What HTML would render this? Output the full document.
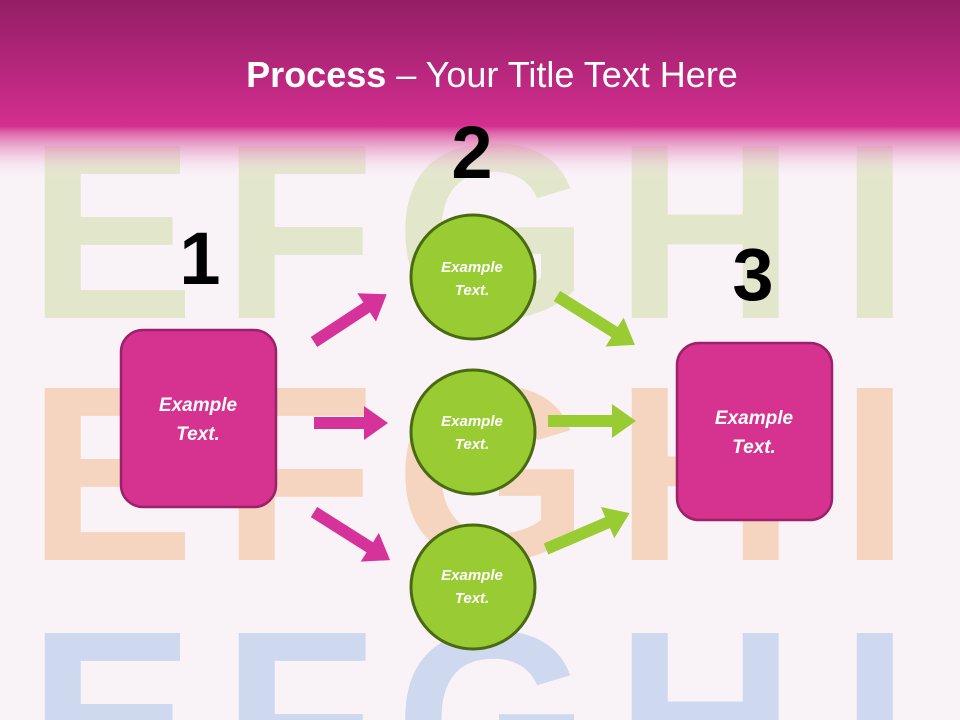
<!DOCTYPE html>
<html><head><meta charset="utf-8"><style>
html,body{margin:0;padding:0;width:960px;height:720px;overflow:hidden;background:#f9f3f8;}
svg{overflow:hidden}
</style></head><body>
<svg width="960" height="720" viewBox="0 0 960 720" xmlns="http://www.w3.org/2000/svg" style="display:block">
<defs>
<linearGradient id="hdr" x1="0" y1="0" x2="0" y2="1">
<stop offset="0" stop-color="#931e65"/>
<stop offset="0.7" stop-color="#d42e8f"/>
<stop offset="0.74" stop-color="#da5aa2" stop-opacity="0.9"/>
<stop offset="1" stop-color="#f9f3f8" stop-opacity="0"/>
</linearGradient>
<clipPath id="c"><rect width="960" height="720"/></clipPath>
</defs>
<g clip-path="url(#c)">
<rect width="960" height="720" fill="#f9f3f8"/>
<g font-family="Liberation Sans, sans-serif" font-weight="bold" opacity="0.35">
<g fill="#b8d27a" font-size="250">
<text x="28" y="318">E</text><text x="222" y="318">F</text><text x="395" y="318">G</text><text x="615" y="318">H</text><text x="840" y="318">I</text>
</g>
<g fill="#f0a05a" font-size="250">
<text x="28" y="560">E</text><text x="222" y="560">F</text><text x="395" y="560">G</text><text x="615" y="560">H</text><text x="840" y="560">I</text>
</g>
<g fill="#7fa8e0" font-size="250">
<text x="28" y="805">E</text><text x="222" y="805">F</text><text x="395" y="805">G</text><text x="615" y="805">H</text><text x="840" y="805">I</text>
</g>
</g>
<rect width="960" height="180" fill="url(#hdr)"/>
<text x="492" y="87" text-anchor="middle" fill="#fff" font-family="Liberation Sans, sans-serif" font-size="36"><tspan font-weight="bold">Process</tspan> – Your Title Text Here</text>

<g font-family="Liberation Sans, sans-serif" font-weight="bold" font-size="74" fill="#000" text-anchor="middle">
<text x="200" y="284">1</text>
<text x="472" y="178">2</text>
<text x="753" y="300">3</text>
</g>

<g fill="#d5339a">
<g transform="translate(314,342) rotate(-33.3)"><polygon points="0,-6 63,-6 63,-17 87,0 63,17 63,6 0,6"/></g>
<g transform="translate(314,423)"><polygon points="0,-6 50,-6 50,-17 74,0 50,17 50,6 0,6"/></g>
<g transform="translate(314,512) rotate(32.3)"><polygon points="0,-6 66,-6 66,-17 90,0 66,17 66,6 0,6"/></g>
</g>
<g fill="#99cc33">
<g transform="translate(557,296) rotate(32.1)"><polygon points="0,-6 68,-6 68,-17 92,0 68,17 68,6 0,6"/></g>
<g transform="translate(548,421)"><polygon points="0,-6 64,-6 64,-17 88,0 64,17 64,6 0,6"/></g>
<g transform="translate(546,549) rotate(-23.2)"><polygon points="0,-6 67,-6 67,-17 91,0 67,17 67,6 0,6"/></g>
</g>

<rect x="121" y="330" width="155" height="177" rx="22" fill="#d5338f" stroke="#9b2169" stroke-width="2.5"/>
<rect x="677" y="343" width="155" height="177" rx="22" fill="#d5338f" stroke="#9b2169" stroke-width="2.5"/>
<g fill="#99cc33" stroke="#4a6a12" stroke-width="3">
<circle cx="473" cy="277" r="62"/>
<circle cx="473" cy="432" r="62"/>
<circle cx="473" cy="587" r="62"/>
</g>
<g font-family="Liberation Sans, sans-serif" font-weight="bold" font-style="italic" fill="#fff" text-anchor="middle">
<g font-size="19">
<text x="198" y="411">Example</text><text x="198" y="440">Text.</text>
<text x="754" y="424">Example</text><text x="754" y="453">Text.</text>
</g>
<g font-size="15">
<text x="472" y="272">Example</text><text x="472" y="295">Text.</text>
<text x="472" y="426">Example</text><text x="472" y="449">Text.</text>
<text x="472" y="580">Example</text><text x="472" y="603">Text.</text>
</g>
</g>
</g>
</svg>
</body></html>
